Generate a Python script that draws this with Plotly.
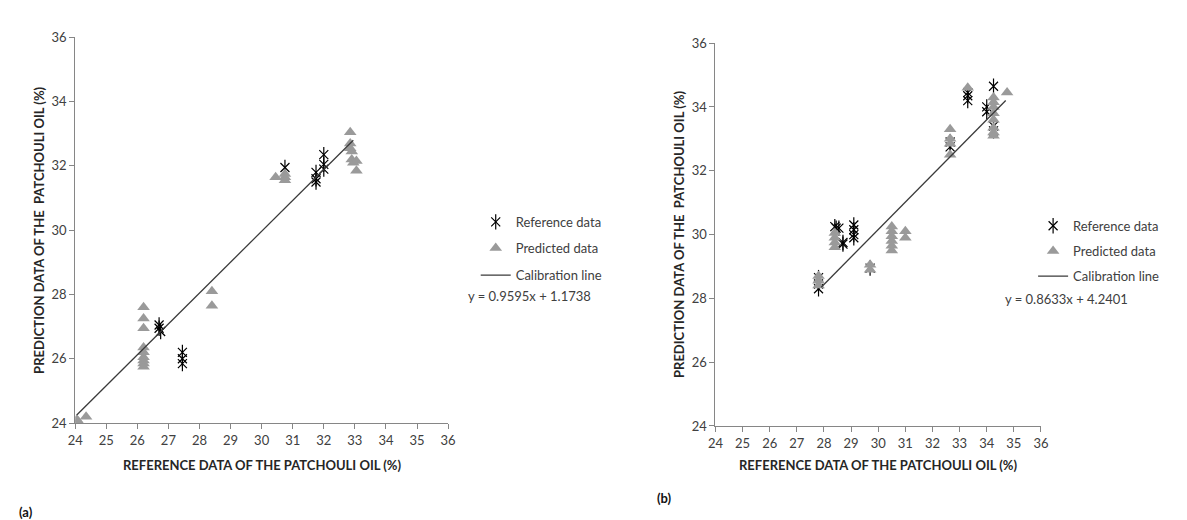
import plotly.graph_objects as go

# ---------------- data ----------------
# (a) left panel
ref_a_x = [26.7, 26.7, 26.75, 27.45, 27.45, 27.45, 30.75, 31.75, 31.75, 31.75, 32.0, 32.0, 32.0]
ref_a_y = [27.05, 26.95, 26.85, 26.2, 26.0, 25.85, 31.95, 31.8, 31.6, 31.5, 32.35, 32.05, 31.9]

pred_a_x = [24.05, 24.1, 24.35,
            26.2, 26.2, 26.2, 26.2, 26.2, 26.2, 26.2, 26.2, 26.2,
            28.4, 28.4,
            30.45, 30.75, 30.75, 30.75,
            32.85, 32.85, 32.85, 32.9, 32.9, 32.95, 33.05, 33.05]
pred_a_y = [24.1, 24.05, 24.2,
            27.6, 27.25, 26.95, 26.35, 26.2, 26.05, 25.95, 25.85, 25.75,
            28.1, 27.65,
            31.65, 31.75, 31.65, 31.55,
            33.05, 32.7, 32.55, 32.45, 32.2, 32.1, 32.15, 31.85]

line_a_x = [24.05, 32.95]
line_a_y = [24.25, 32.8]
eq_a = "y = 0.9595x + 1.1738"

# (b) right panel
ref_b_x = [27.8, 27.8, 27.8,
           28.4, 28.45, 28.55, 28.7, 28.7,
           29.1, 29.1, 29.1, 29.1,
           29.7,
           32.65, 32.65,
           33.3, 33.3, 33.3,
           34.0, 34.0,
           34.25, 34.25, 34.25]
ref_b_y = [28.65, 28.45, 28.3,
           30.25, 30.2, 30.2, 29.75, 29.7,
           30.3, 30.15, 30.0, 29.9,
           28.95,
           32.9, 32.75,
           34.45, 34.35, 34.2,
           34.0, 33.85,
           34.65, 33.4, 33.25]

pred_b_x = [27.8, 27.8, 27.8,
            28.4, 28.4, 28.4, 28.4,
            29.7, 29.7,
            30.5, 30.5, 30.5, 30.5, 30.5, 30.5,
            31.0, 31.0,
            32.65, 32.65, 32.65, 32.65,
            33.3,
            34.25, 34.25, 34.25, 34.25, 34.25, 34.25, 34.25, 34.25,
            34.75]
pred_b_y = [28.7, 28.55, 28.4,
            30.05, 29.9, 29.75, 29.6,
            29.05, 28.9,
            30.25, 30.1, 29.95, 29.8, 29.65, 29.5,
            30.1, 29.9,
            33.3, 33.0, 32.85, 32.5,
            34.6,
            34.3, 34.15, 34.0, 33.8, 33.6, 33.35, 33.2, 33.1,
            34.45]

line_b_x = [27.9, 34.7]
line_b_y = [28.35, 34.2]
eq_b = "y = 0.8633x + 4.2401"

tick_vals = list(range(24, 37))
ytick_vals = [24, 26, 28, 30, 32, 34, 36]

series_names = ["Reference data", "Predicted data", "Calibration line"]
x_title = "REFERENCE DATA OF THE PATCHOULI OIL (%)"
y_title = "PREDICTION DATA OF THE  PATCHOULI OIL (%)"
panel_labels = ["(a)", "(b)"]

# ---------------- styling ----------------
W, H = 1187, 520
FONT = "Lato, Calibri, 'Open Sans', sans-serif"
TXT = "#404040"
AX = "#868686"
TRI = "#9a9a9a"


def px_x(p):
    return p / W


def px_y(p):
    return 1 - p / H


fig = go.Figure()
legend_layout = {}
LEG_OFF = 24  # legend top offset above row centre (px)


def add_legend(name, x_px, yc_px, transparent=False):
    legend_layout[name] = dict(
        x=px_x(x_px), y=px_y(yc_px - LEG_OFF), xanchor="left", yanchor="top",
        bgcolor="rgba(0,0,0,0)", borderwidth=0, itemwidth=30,
        font=dict(family=FONT, size=13, color="rgba(0,0,0,0)" if transparent else TXT))


def add_panel(xref, yref, idx, rx, ry, px_, py_, lx, ly, leg_x, rows):
    base = 1 + idx * 4
    names = ["legend" if base == 1 else f"legend{base}"] + [f"legend{base + k}" for k in (1, 2, 3)]
    # reference data: X + vertical stroke (Excel star marker)
    fig.add_trace(go.Scatter(x=rx, y=ry, mode="markers", name=series_names[0],
                             xaxis=xref, yaxis=yref, legend=names[0],
                             marker=dict(symbol="x-thin-open", size=9, color="black",
                                         line=dict(color="black", width=1.2))))
    fig.add_trace(go.Scatter(x=rx, y=ry, mode="markers", name=series_names[0],
                             xaxis=xref, yaxis=yref, legend=names[1],
                             marker=dict(symbol="line-ns-open", size=11, color="black",
                                         line=dict(color="black", width=1.2))))
    fig.add_trace(go.Scatter(x=px_, y=py_, mode="markers", name=series_names[1],
                             xaxis=xref, yaxis=yref, legend=names[2],
                             marker=dict(symbol="triangle-up", size=11, color=TRI)))
    fig.add_trace(go.Scatter(x=lx, y=ly, mode="lines", name=series_names[2],
                             xaxis=xref, yaxis=yref, legend=names[3],
                             line=dict(color="#3a3a3a", width=1.3)))
    add_legend(names[0], leg_x, rows[0])
    add_legend(names[1], leg_x, rows[0], transparent=True)
    add_legend(names[2], leg_x, rows[1])
    add_legend(names[3], leg_x, rows[2])


add_panel("x", "y", 0, ref_a_x, ref_a_y, pred_a_x, pred_a_y, line_a_x, line_a_y, 466, [221, 248, 276])
add_panel("x2", "y2", 1, ref_b_x, ref_b_y, pred_b_x, pred_b_y, line_b_x, line_b_y, 1031, [225, 251, 277])

axis_common = dict(range=[24, 36], showgrid=False, zeroline=False, showline=True,
                   linecolor=AX, linewidth=1, ticks="outside", ticklen=5,
                   tickcolor=AX, tickfont=dict(family=FONT, size=13, color=TXT))

fig.update_layout(
    width=W, height=H, margin=dict(l=0, r=0, t=0, b=0),
    paper_bgcolor="white", plot_bgcolor="white",
    xaxis=dict(domain=[px_x(60), px_x(438)], tickvals=tick_vals, anchor="y", **axis_common),
    yaxis=dict(domain=[px_y(420), px_y(22)], tickvals=ytick_vals, anchor="x", **axis_common),
    xaxis2=dict(domain=[px_x(709), px_x(1039)], tickvals=tick_vals, anchor="y2", **axis_common),
    yaxis2=dict(domain=[px_y(423), px_y(28)], tickvals=ytick_vals, anchor="x2", **axis_common),
    showlegend=True,
    **legend_layout,
)

ann = []
# axis titles
for cx, ty in [((60 + 438) / 2, 463), ((709 + 1039) / 2, 463)]:
    ann.append(dict(text="<b>" + x_title + "</b>", x=px_x(cx), y=px_y(ty), xref="paper", yref="paper",
                    showarrow=False, xanchor="center", yanchor="middle",
                    font=dict(family=FONT, size=13, color="#262626")))
for cx, cy in [(24, 221), (672, 225)]:
    ann.append(dict(text="<b>" + y_title + "</b>", x=px_x(cx), y=px_y(cy), xref="paper", yref="paper",
                    showarrow=False, xanchor="center", yanchor="middle", textangle=-90,
                    font=dict(family=FONT, size=13, color="#262626")))
# equations
ann.append(dict(text=eq_a, x=px_x(456), y=px_y(289), xref="paper", yref="paper", showarrow=False,
                xanchor="left", yanchor="middle", font=dict(family=FONT, size=13, color=TXT)))
ann.append(dict(text=eq_b, x=px_x(1000), y=px_y(292), xref="paper", yref="paper", showarrow=False,
                xanchor="left", yanchor="middle", font=dict(family=FONT, size=13, color=TXT)))
# panel labels
ann.append(dict(text="<b>" + panel_labels[0] + "</b>", x=px_x(1), y=px_y(512), xref="paper", yref="paper",
                showarrow=False, xanchor="left", yanchor="middle", font=dict(family=FONT, size=13, color="#111")))
ann.append(dict(text="<b>" + panel_labels[1] + "</b>", x=px_x(648), y=px_y(497), xref="paper", yref="paper",
                showarrow=False, xanchor="left", yanchor="middle", font=dict(family=FONT, size=13, color="#111")))
fig.update_layout(annotations=ann)

fig.write_html("out.html")
